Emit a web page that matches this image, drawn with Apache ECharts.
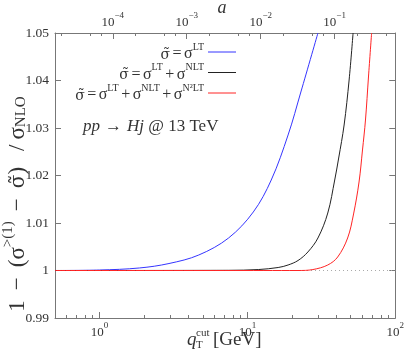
<!DOCTYPE html>
<html><head><meta charset="utf-8">
<script src="https://cdn.jsdelivr.net/npm/echarts@6/dist/echarts.min.js"></script>
<style>html,body{margin:0;padding:0;background:#fff}#c{width:407px;height:355px}</style>
</head><body><div id="c"></div>
<script>
// ---- data ----
const qtBlue  = [0.5, 1.0, 1.86, 2.95, 4.69, 7.46, 10.97, 14.5, 18.85, 23.0, 30.0];
const valBlue = [1.0, 1.0001, 1.00053, 1.00147, 1.00326, 1.00684, 1.01232, 1.01905, 1.02853, 1.03758, 1.05];
const qtBlack  = [0.5, 7.46, 11.85, 16.15, 18.85, 22.0, 25.66, 30.0, 34.97, 38.96, 41.44, 45.1, 48.75, 51.86];
const valBlack = [1.0, 1.00004, 1.0002, 1.00063, 1.00116, 1.0021, 1.0039, 1.00684, 1.0121, 1.01905, 1.02368, 1.03063, 1.0401, 1.05];
const qtRed  = [0.5, 22.0, 27.73, 34.97, 40.8, 47.64, 52.25, 56.9, 60.05, 62.9, 65.9, 69.2];
const valRed = [1.0, 1.0, 1.0002, 1.00116, 1.00284, 1.00684, 1.0119, 1.01863, 1.02537, 1.03168, 1.04074, 1.05];
const refLine = [1.0, 1.0];

const qMin = 0.5, qMax = 100;
const yMin = 0.99, yMax = 1.05, yStep = 0.01;
const aScale = 123; // a = (qT / aScale)^2
const xMajor = [1, 10, 100];
const xMinor = [0.6,0.7,0.8,0.9,2,3,4,5,6,7,8,9,20,30,40,50,60,70,80,90];
const aMajor = [1e-4, 1e-3, 1e-2, 1e-1];
const aMinor = [2e-5,5e-5,7e-5,2e-4,5e-4,7e-4,2e-3,5e-3,7e-3,2e-2,5e-2,7e-2,2e-1,5e-1];
const legendNames = [
  '{t|σ̃}{o|=}{m|σ}{s|LT}',
  '{t|σ̃}{o|=}{m|σ}{s|LT}{o|+}{m|σ}{s|NLT}',
  '{t|σ̃}{o|=}{m|σ}{s|LT}{o|+}{m|σ}{s|NLT}{o|+}{m|σ}{s|N²LT}'
];
const colors = ['#3535ff', '#222222', '#ff2424'];

// ---- chart ----
const F = 'Liberation Serif';
const FT = 'DejaVu Serif';
const TC = '#333';
const AX = '#777';
const zip = (a, b) => a.map((v, i) => [v, b[i]]);
const powLabel = v => {
  const e = Math.log10(v);
  const r = Math.round(e);
  if (Math.abs(e - r) > 1e-6) return '';
  return '{b|10}{e|' + (r < 0 ? '−' + (-r) : r) + '}';
};
const powRich = {
  b: {fontFamily: F, fontSize: 13, lineHeight: 18, color: TC, verticalAlign: 'bottom'},
  e: {fontFamily: F, fontSize: 9, lineHeight: 10, color: TC, verticalAlign: 'top'}
};
const chart = echarts.init(document.getElementById('c'));
const grid = {left: 55, right: 9, top: 33, bottom: 37};
const aMin = Math.pow(qMin / aScale, 2), aMax = Math.pow(qMax / aScale, 2);

const series = [
  {type: 'line', data: zip([qMin, qMax], refLine), symbol: 'none', silent: true,
   lineStyle: {color: '#aaa', width: 1, type: [1, 3]}, z: 1}
];
[[qtBlue, valBlue], [qtBlack, valBlack], [qtRed, valRed]].forEach((d, i) => {
  series.push({type: 'line', name: 'c' + i, data: zip(d[0], d[1]), symbol: 'none',
    smooth: 0.35, lineStyle: {color: colors[i], width: 1}, z: 2 + i});
});

const graphic = [];
const legRich = {
  m: {fontFamily: F, fontSize: 16, lineHeight: 20, fill: TC, verticalAlign: 'bottom'},
  t: {fontFamily: FT, fontSize: 14, lineHeight: 20, fill: TC, verticalAlign: 'bottom'},
  o: {fontFamily: F, fontSize: 16, lineHeight: 20, fill: TC, verticalAlign: 'bottom', padding: [0, 2.5, 0, 2.5]},
  s: {fontFamily: F, fontSize: 10, lineHeight: 15, fill: TC, verticalAlign: 'top'}
};
legendNames.forEach((t, i) => {
  const y = 52 + i * 20.5;
  graphic.push({type: 'text', x: 204, y: y, style: {text: t, align: 'right', verticalAlign: 'middle', rich: legRich}});
  graphic.push({type: 'line', shape: {x1: 208, y1: y, x2: 236, y2: y}, style: {stroke: colors[i], lineWidth: 1}});
});
graphic.push({type: 'text', x: 83, y: 127, style: {
  text: '{i|pp}{a|→}{i|Hj}{n| @ 13 TeV}', align: 'left', verticalAlign: 'middle',
  rich: {
    i: {fontFamily: F, fontSize: 17, fontStyle: 'italic', fill: TC},
    a: {fontFamily: F, fontSize: 17, fill: TC, padding: [0, 5, 0, 5]},
    n: {fontFamily: F, fontSize: 17, fill: TC}
  }}});
graphic.push({type: 'text', x: 15, y: 204, rotation: Math.PI / 2, style: {
  text: '{n|1}{o|−}{n|(σ}{s|>(1)}{o|−}{t|σ̃}{n|)}{q|/}{n|σ}{b|NLO}', align: 'center', verticalAlign: 'middle',
  rich: {
    n: {fontFamily: F, fontSize: 23, lineHeight: 28, fill: TC, verticalAlign: 'bottom'},
    t: {fontFamily: FT, fontSize: 20, lineHeight: 28, fill: TC, verticalAlign: 'bottom'},
    o: {fontFamily: F, fontSize: 23, lineHeight: 28, fill: TC, verticalAlign: 'bottom', padding: [0, 10, 0, 10]},
    q: {fontFamily: F, fontSize: 23, lineHeight: 28, fill: TC, verticalAlign: 'bottom', padding: [0, 5, 0, 16]},
    s: {fontFamily: F, fontSize: 15, lineHeight: 15, fill: TC, verticalAlign: 'top'},
    b: {fontFamily: F, fontSize: 15, lineHeight: 19, fill: TC, verticalAlign: 'bottom'}
  }}});
graphic.push({type: 'text', x: 187, y: 340, style: {text: 'q', fontFamily: F, fontSize: 19, fontStyle: 'italic', fill: TC, verticalAlign: 'middle'}});
graphic.push({type: 'text', x: 196, y: 333, style: {text: 'cut', fontFamily: F, fontSize: 11, fill: TC, verticalAlign: 'middle'}});
graphic.push({type: 'text', x: 196, y: 345, style: {text: 'T', fontFamily: F, fontSize: 11, fill: TC, verticalAlign: 'middle'}});
graphic.push({type: 'text', x: 213, y: 340, style: {text: '[GeV]', fontFamily: F, fontSize: 19, fill: TC, verticalAlign: 'middle'}});
graphic.push({type: 'text', x: 222, y: 8, style: {text: 'a', fontFamily: F, fontSize: 18, fontStyle: 'italic', fill: TC, align: 'center', verticalAlign: 'middle'}});

const noLine = {show: false};
chart.setOption({
  animation: false,
  backgroundColor: '#fff',
  grid: grid,
  xAxis: [
    {type: 'log', logBase: 10, min: qMin, max: qMax, position: 'bottom',
     axisLine: {show: true, onZero: false, lineStyle: {color: AX}},
     axisTick: {show: true, inside: true, length: 6, customValues: xMajor, lineStyle: {color: AX}},
     axisLabel: {show: true, customValues: xMajor, formatter: powLabel, rich: powRich, margin: 3, showMinLabel: true, showMaxLabel: true},
     splitLine: {show: false}},
    {type: 'log', logBase: 10, min: qMin, max: qMax, position: 'bottom',
     axisLine: noLine, axisLabel: {show: false}, splitLine: {show: false},
     axisTick: {show: true, inside: true, length: 3, customValues: xMinor, lineStyle: {color: AX}}},
    {type: 'log', logBase: 10, min: aMin, max: aMax, position: 'top',
     axisLine: {show: true, onZero: false, lineStyle: {color: AX}},
     axisTick: {show: true, inside: true, length: 6, customValues: aMajor, lineStyle: {color: AX}},
     axisLabel: {show: true, customValues: aMajor, formatter: powLabel, rich: powRich, margin: 4},
     splitLine: {show: false}},
    {type: 'log', logBase: 10, min: aMin, max: aMax, position: 'top',
     axisLine: noLine, axisLabel: {show: false}, splitLine: {show: false},
     axisTick: {show: true, inside: true, length: 3, customValues: aMinor, lineStyle: {color: AX}}}
  ],
  yAxis: [
    {type: 'value', min: yMin, max: yMax, interval: yStep, position: 'left',
     axisLine: {show: true, lineStyle: {color: AX}},
     axisTick: {show: true, inside: true, length: 6, lineStyle: {color: AX}},
     axisLabel: {formatter: v => String(parseFloat(v.toFixed(2))), fontFamily: F, fontSize: 13.5, color: TC, margin: 6},
     splitLine: {show: false}},
    {type: 'value', min: yMin, max: yMax, interval: yStep, position: 'right',
     axisLine: {show: true, lineStyle: {color: AX}},
     axisTick: {show: true, inside: true, length: 6, lineStyle: {color: AX}},
     axisLabel: {show: false}, splitLine: {show: false}}
  ],
  series: series,
  graphic: graphic
});
</script>
</body></html>
